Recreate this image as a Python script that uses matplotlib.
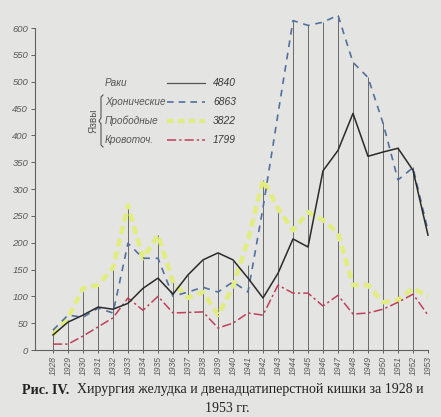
import matplotlib
matplotlib.use("Agg")
import matplotlib.pyplot as plt
from matplotlib.lines import Line2D

plt.rcParams['font.family'] = ['Liberation Sans', 'DejaVu Sans']

years = list(range(1928, 1954))
# Раки
cancer = [28, 52, 65, 80, 76, 87, 115, 134, 104, 140, 168, 181, 168,
          134, 97, 143, 207, 192, 334, 372, 441, 361, 369, 376, 335, 214]
# Язвы хронические
chronic = [37, 65, 61, 78, 69, 199, 171, 171, 100, 108, 117, 108, 127,
           108, 265, 440, 614, 605, 611, 624, 536, 508, 423, 317, 340, 222]
# Язвы прободные
perforated = [28, 60, 115, 121, 153, 270, 171, 214, 127, 97, 108, 65, 118,
              205, 317, 264, 223, 257, 242, 218, 121, 121, 89, 93, 115, 100]
# Язвы кровоточащие
bleeding = [11, 11, 26, 43, 60, 97, 74, 100, 69, 70, 71, 41, 50,
            69, 65, 121, 106, 106, 82, 102, 67, 69, 76, 89, 104, 65]
# высота вертикальных линий по годам
guide_tops = [37, 56, 115, 121, 153, 270, 177, 214, 127, 140, 168, 181, 168,
              158, 317, 266, 614, 605, 611, 624, 536, 508, 423, 378, 341, 214]

labels = ['Раки', 'Хронические', 'Прободные', 'Кровоточ.']
totals = ['4840', '6863', '3822', '1799']

W, H = 441, 417
bg = '#e4e4e2'
fig = plt.figure(figsize=(W / 100, H / 100), dpi=100, facecolor=bg)

# ось: 1928 -> x=53px, шаг 15px; 0 -> y=350px, 600 -> y=28px
ax = fig.add_axes([35 / W, (H - 350) / H, (428 - 35) / W, 338 / H])
ax.set_facecolor('none')
ax.set_xlim(1926.8, 1953)
ax.set_ylim(0, 630)

ax.vlines(years, 0, guide_tops, colors='#555555', lw=0.6, zorder=1)

ax.plot(years, perforated, color='#e2ed80', lw=3.2, dashes=(1.8, 1.1),
        zorder=2, clip_on=False)
ax.plot(years, chronic, color='#52709c', lw=1.2, dashes=(4, 3.5),
        zorder=3, clip_on=False)
ax.plot(years, bleeding, color='#c0405a', lw=1.1, dashes=(6, 2, 1.5, 2),
        zorder=3, clip_on=False)
ax.plot(years, cancer, color='#2a2a2a', lw=1.1, zorder=4, clip_on=False)

for s in ['top', 'right']:
    ax.spines[s].set_visible(False)
ax.spines['left'].set_bounds(0, 600)
ax.spines['left'].set_color('#606060')
ax.spines['bottom'].set_color('#606060')
ax.spines['left'].set_linewidth(0.8)
ax.spines['bottom'].set_linewidth(0.8)

ax.set_yticks(range(0, 601, 50))
ax.set_yticklabels([str(v) for v in range(0, 601, 50)], fontsize=6.8,
                   color='#5a5a5a', style='italic')
ax.set_xticks(years)
ax.set_xticklabels([str(y) for y in years], rotation=90, fontsize=6.2,
                   color='#5a5a5a', style='italic')
ax.tick_params(axis='y', length=3, width=0.7, color='#606060', pad=2)
ax.tick_params(axis='x', length=2, width=0.7, color='#606060', pad=2)

# легенда
styles = [dict(color='#555555', lw=0.9),
          dict(color='#52709c', lw=1.2, dashes=(4, 3)),
          dict(color='#e2ed80', lw=3.0, dashes=(1.6, 1.0)),
          dict(color='#c0405a', lw=1.1, dashes=(6, 2, 1.5, 2))]
rows = [83, 102, 121, 140]
for lab, tot, st, yy in zip(labels, totals, styles, rows):
    fy = 1 - yy / H
    fig.text(105 / W, fy, lab, fontsize=7.2, style='italic', color='#555555',
             va='center', ha='left')
    fig.add_artist(Line2D([167 / W, 205 / W], [fy, fy], **st))
    fig.text(213 / W, fy, tot, fontsize=7.4, style='italic', color='#3a3a3a',
             va='center', ha='left')

fig.text(94 / W, 1 - 121 / H, 'Язвы', rotation=90, fontsize=7.2,
         color='#555555', va='center', ha='center')
bx = [103, 101, 101, 99, 101, 101, 103]
by = [95, 97, 118, 121, 124, 145, 147]
fig.add_artist(Line2D([x / W for x in bx], [1 - y / H for y in by],
                      color='#555555', lw=0.8))

# подпись
fig.text(22 / W, 1 - 390 / H, 'Рис. IV.', family='Liberation Serif',
         fontweight='bold', fontsize=10.2, color='#222222', va='center')
fig.text(77 / W, 1 - 390 / H,
         'Хирургия желудка и двенадцатиперстной кишки за 1928 и',
         family='Liberation Serif', fontsize=10.0, color='#222222',
         va='center')
fig.text(227 / W, 1 - 408 / H, '1953 гг.', family='Liberation Serif',
         fontsize=10.0, color='#222222', va='center', ha='center')

fig.savefig('out.png', dpi=100, facecolor=bg)
